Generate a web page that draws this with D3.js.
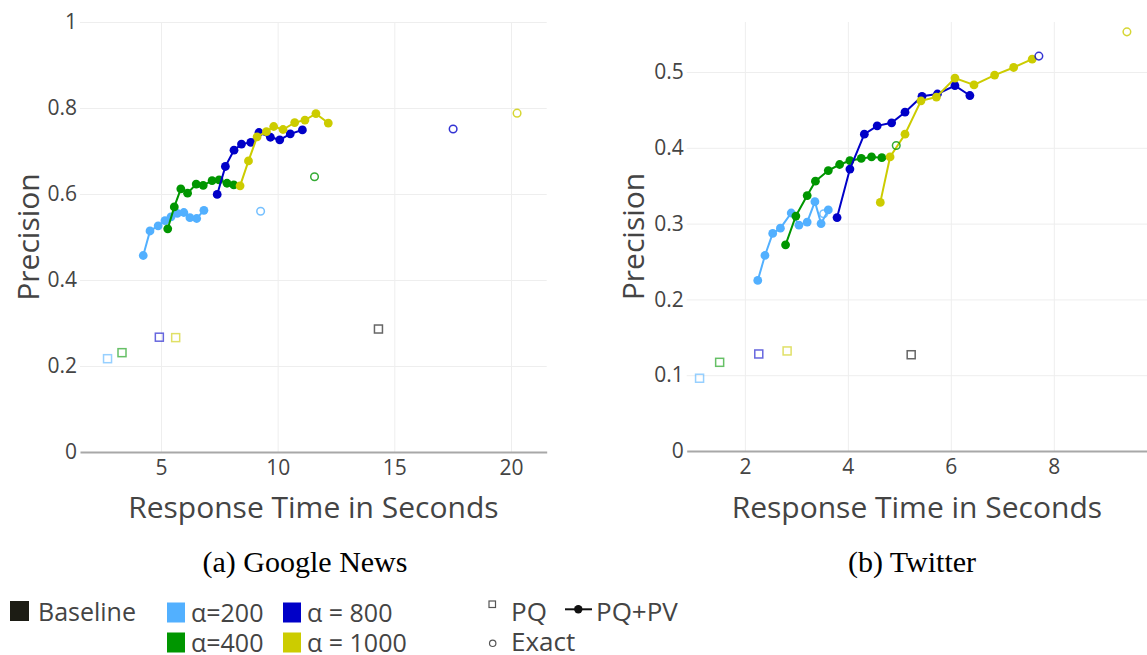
<!DOCTYPE html>
<html>
<head>
<meta charset="utf-8">
<script src="https://cdn.jsdelivr.net/npm/d3@7"></script>
<style>
  body { margin: 0; background: #fff; }
  svg { display: block; font-family: "Open Sans", sans-serif; }
</style>
</head>
<body>
<svg id="chart" width="1147" height="655"></svg>
<script>
'use strict'

// series colours, in legend order
var seriesNames = ["200", "400", "800", "1000"];
var seriesColors = ["#52b0ff", "#009600", "#0000c8", "#cccc00"];

// ---- (a) Google News : [response time, precision]
var newsPV200 = [[4.24, 0.457], [4.53, 0.514], [4.88, 0.526], [5.17, 0.538], [5.43, 0.547],
	[5.70, 0.555], [5.98, 0.557], [6.24, 0.545], [6.53, 0.543], [6.84, 0.562]];
var newsPV400 = [[5.29, 0.519], [5.57, 0.570], [5.85, 0.612], [6.14, 0.602], [6.51, 0.623],
	[6.81, 0.620], [7.19, 0.631], [7.49, 0.633], [7.83, 0.625], [8.12, 0.621]];
var newsPV800 = [[7.41, 0.599], [7.76, 0.664], [8.13, 0.702], [8.45, 0.716], [8.85, 0.720],
	[9.20, 0.743], [9.69, 0.732], [10.09, 0.726], [10.54, 0.740], [11.06, 0.749]];
var newsPV1000 = [[8.39, 0.619], [8.75, 0.677], [9.12, 0.733], [9.52, 0.745], [9.83, 0.757],
	[10.23, 0.750], [10.73, 0.766], [11.17, 0.772], [11.64, 0.787], [12.17, 0.765]];
var newsExact = [[9.27, 0.560], [11.58, 0.640], [17.52, 0.751], [20.26, 0.788]];
var newsPQ = [[2.71, 0.217], [3.33, 0.231], [4.93, 0.267], [5.63, 0.266]];
var newsBaseline = [14.32, 0.286];
var newsXTicks = [5, 10, 15, 20];
var newsYTicks = [0, 0.2, 0.4, 0.6, 0.8, 1];

// ---- (b) Twitter
var twPV200 = [[2.25, 0.225], [2.39, 0.258], [2.54, 0.287], [2.69, 0.294], [2.90, 0.314],
	[3.05, 0.298], [3.21, 0.302], [3.36, 0.329], [3.48, 0.300], [3.62, 0.318]];
var twPV400 = [[2.79, 0.272], [2.99, 0.310], [3.21, 0.337], [3.37, 0.356], [3.62, 0.370],
	[3.84, 0.378], [4.04, 0.383], [4.26, 0.386], [4.46, 0.388], [4.66, 0.387]];
var twPV800 = [[3.79, 0.308], [4.04, 0.372], [4.32, 0.418], [4.57, 0.429], [4.85, 0.433],
	[5.11, 0.447], [5.44, 0.468], [5.74, 0.471], [6.08, 0.482], [6.37, 0.469]];
var twPV1000 = [[4.63, 0.328], [4.82, 0.388], [5.11, 0.418], [5.42, 0.462], [5.72, 0.467],
	[6.08, 0.492], [6.45, 0.483], [6.85, 0.496], [7.22, 0.506], [7.58, 0.517]];
var twExact = [[3.53, 0.313], [4.94, 0.403], [7.71, 0.521], [9.42, 0.553]];
var twPQ = [[1.12, 0.096], [1.51, 0.117], [2.27, 0.128], [2.82, 0.132]];
var twBaseline = [5.23, 0.127];
var twXTicks = [2, 4, 6, 8];
var twYTicks = [0, 0.1, 0.2, 0.3, 0.4, 0.5];

var svg = d3.select("#chart");

function drawPanel(opt) {
	var x = d3.scaleLinear().domain(opt.xDomain).range([opt.left, opt.right]);
	var y = d3.scaleLinear().domain(opt.yDomain).range([opt.bottom, opt.top]);
	var g = svg.append("g");

	// grid
	g.append("g")
		.attr("transform", "translate(0," + opt.bottom + ")")
		.call(d3.axisBottom(x).tickValues(opt.xTicks).tickSize(-(opt.bottom - opt.top)).tickFormat(""))
		.call(function (s) {
			s.select(".domain").remove();
			s.selectAll("line").attr("stroke", "#eeeeee").attr("stroke-width", 1);
		});
	g.append("g")
		.attr("transform", "translate(" + opt.left + ",0)")
		.call(d3.axisLeft(y).tickValues(opt.yTicks.slice(1)).tickSize(-(opt.right - opt.left)).tickFormat(""))
		.call(function (s) {
			s.select(".domain").remove();
			s.selectAll("line").attr("stroke", "#eeeeee").attr("stroke-width", 1);
		});

	// axes
	g.append("g")
		.attr("transform", "translate(0," + opt.bottom + ")")
		.call(d3.axisBottom(x).tickValues(opt.xTicks).tickSize(0).tickSizeOuter(0).tickPadding(8))
		.call(function (s) {
			s.select(".domain").attr("stroke", "#a8a8a8").attr("stroke-width", 2);
			s.selectAll("text").attr("fill", "#444").style("font-size", "21px").style("font-family", "Open Sans");
		});
	g.append("g")
		.attr("transform", "translate(" + opt.left + ",0)")
		.call(d3.axisLeft(y).tickValues(opt.yTicks).tickSize(0).tickPadding(3).tickFormat(function (d) { return String(d); }))
		.call(function (s) {
			s.select(".domain").remove();
			s.selectAll("text").attr("fill", "#444").style("font-size", "21px").style("font-family", "Open Sans");
		});

	// axis titles
	g.append("text")
		.attr("x", (opt.left + opt.right) / 2)
		.attr("y", 518)
		.attr("text-anchor", "middle")
		.attr("fill", "#444")
		.style("font-size", "30px")
		.text("Response Time in Seconds");
	g.append("text")
		.attr("transform", "translate(" + opt.titleX + "," + ((opt.top + opt.bottom) / 2) + ") rotate(-90)")
		.attr("text-anchor", "middle")
		.attr("dy", "0.35em")
		.attr("fill", "#444")
		.style("font-size", "30px")
		.text("Precision");

	// caption
	g.append("text")
		.attr("x", opt.captionX)
		.attr("y", 572)
		.attr("text-anchor", "middle")
		.attr("fill", "#000")
		.style("font-family", "Liberation Serif, serif")
		.style("font-size", "30px")
		.text(opt.caption);

	// PQ squares
	var sq = 8;
	g.selectAll(".pq").data(opt.pq).enter().append("rect")
		.attr("x", function (d) { return x(d[0]) - sq / 2; })
		.attr("y", function (d) { return y(d[1]) - sq / 2; })
		.attr("width", sq).attr("height", sq)
		.attr("fill", "none")
		.attr("stroke", function (d, i) { return seriesColors[i]; })
		.attr("stroke-opacity", 0.6)
		.attr("stroke-width", 1.5);
	g.append("rect")
		.attr("x", x(opt.baseline[0]) - sq / 2)
		.attr("y", y(opt.baseline[1]) - sq / 2)
		.attr("width", sq).attr("height", sq)
		.attr("fill", "none")
		.attr("stroke", "#666")
		.attr("stroke-width", 1.5);

	// PQ+PV lines
	var line = d3.line().x(function (d) { return x(d[0]); }).y(function (d) { return y(d[1]); });
	opt.pv.forEach(function (series, i) {
		g.append("path")
			.datum(series)
			.attr("d", line)
			.attr("fill", "none")
			.attr("stroke", seriesColors[i])
			.attr("stroke-width", 2);
		g.selectAll(".dot" + i).data(series).enter().append("circle")
			.attr("cx", function (d) { return x(d[0]); })
			.attr("cy", function (d) { return y(d[1]); })
			.attr("r", 4.4)
			.attr("fill", seriesColors[i]);
	});

	// exact
	g.selectAll(".exact").data(opt.exact).enter().append("circle")
		.attr("cx", function (d) { return x(d[0]); })
		.attr("cy", function (d) { return y(d[1]); })
		.attr("r", 3.8)
		.attr("fill", "none")
		.attr("stroke", function (d, i) { return seriesColors[i]; })
		.attr("stroke-opacity", 0.8)
		.attr("stroke-width", 1.5);
}

drawPanel({
	xDomain: [1.53, 21.53], yDomain: [0, 1],
	left: 80, right: 546.7, top: 22, bottom: 452,
	xTicks: newsXTicks, yTicks: newsYTicks,
	titleX: 28, captionX: 305, caption: "(a) Google News",
	pv: [newsPV200, newsPV400, newsPV800, newsPV1000],
	exact: newsExact, pq: newsPQ, baseline: newsBaseline
});

drawPanel({
	xDomain: [0.87, 9.81], yDomain: [0, 0.566],
	left: 686.7, right: 1147, top: 22, bottom: 451,
	xTicks: twXTicks, yTicks: twYTicks,
	titleX: 633, captionX: 912, caption: "(b) Twitter",
	pv: [twPV200, twPV400, twPV800, twPV1000],
	exact: twExact, pq: twPQ, baseline: twBaseline
});

// ---- legend
var legend = svg.append("g").style("font-size", "25px").attr("fill", "#444");

legend.append("rect").attr("x", 10).attr("y", 601).attr("width", 19).attr("height", 20).attr("fill", "#1c1c14");
legend.append("text").attr("x", 38).attr("y", 621).text("Baseline");

var swatches = [
	{ x: 167, y: 602.5, label: "α=200" },
	{ x: 167, y: 632.5, label: "α=400" },
	{ x: 283, y: 602.5, label: "α = 800" },
	{ x: 283, y: 632.5, label: "α = 1000" }
];
swatches.forEach(function (s, i) {
	legend.append("rect").attr("x", s.x).attr("y", s.y).attr("width", 18).attr("height", 20).attr("fill", seriesColors[i]);
	legend.append("text").attr("x", s.x + 24).attr("y", s.y + 19).attr("fill", "#444").text(s.label);
});

var marks = legend.append("g").style("font-size", "26px");
marks.append("rect").attr("x", 489).attr("y", 601).attr("width", 6.5).attr("height", 6.5)
	.attr("fill", "none").attr("stroke", "#555").attr("stroke-width", 1.2);
marks.append("text").attr("x", 511).attr("y", 621).text("PQ");
marks.append("circle").attr("cx", 492.7).attr("cy", 643.3).attr("r", 3.2)
	.attr("fill", "none").attr("stroke", "#555").attr("stroke-width", 1.2);
marks.append("text").attr("x", 511).attr("y", 651).text("Exact");

marks.append("line").attr("x1", 565).attr("x2", 592).attr("y1", 609.3).attr("y2", 609.3)
	.attr("stroke", "#111").attr("stroke-width", 2);
marks.append("circle").attr("cx", 578.3).attr("cy", 609.3).attr("r", 4.2).attr("fill", "#111");
marks.append("text").attr("x", 596).attr("y", 621).text("PQ+PV");
</script>
</body>
</html>
